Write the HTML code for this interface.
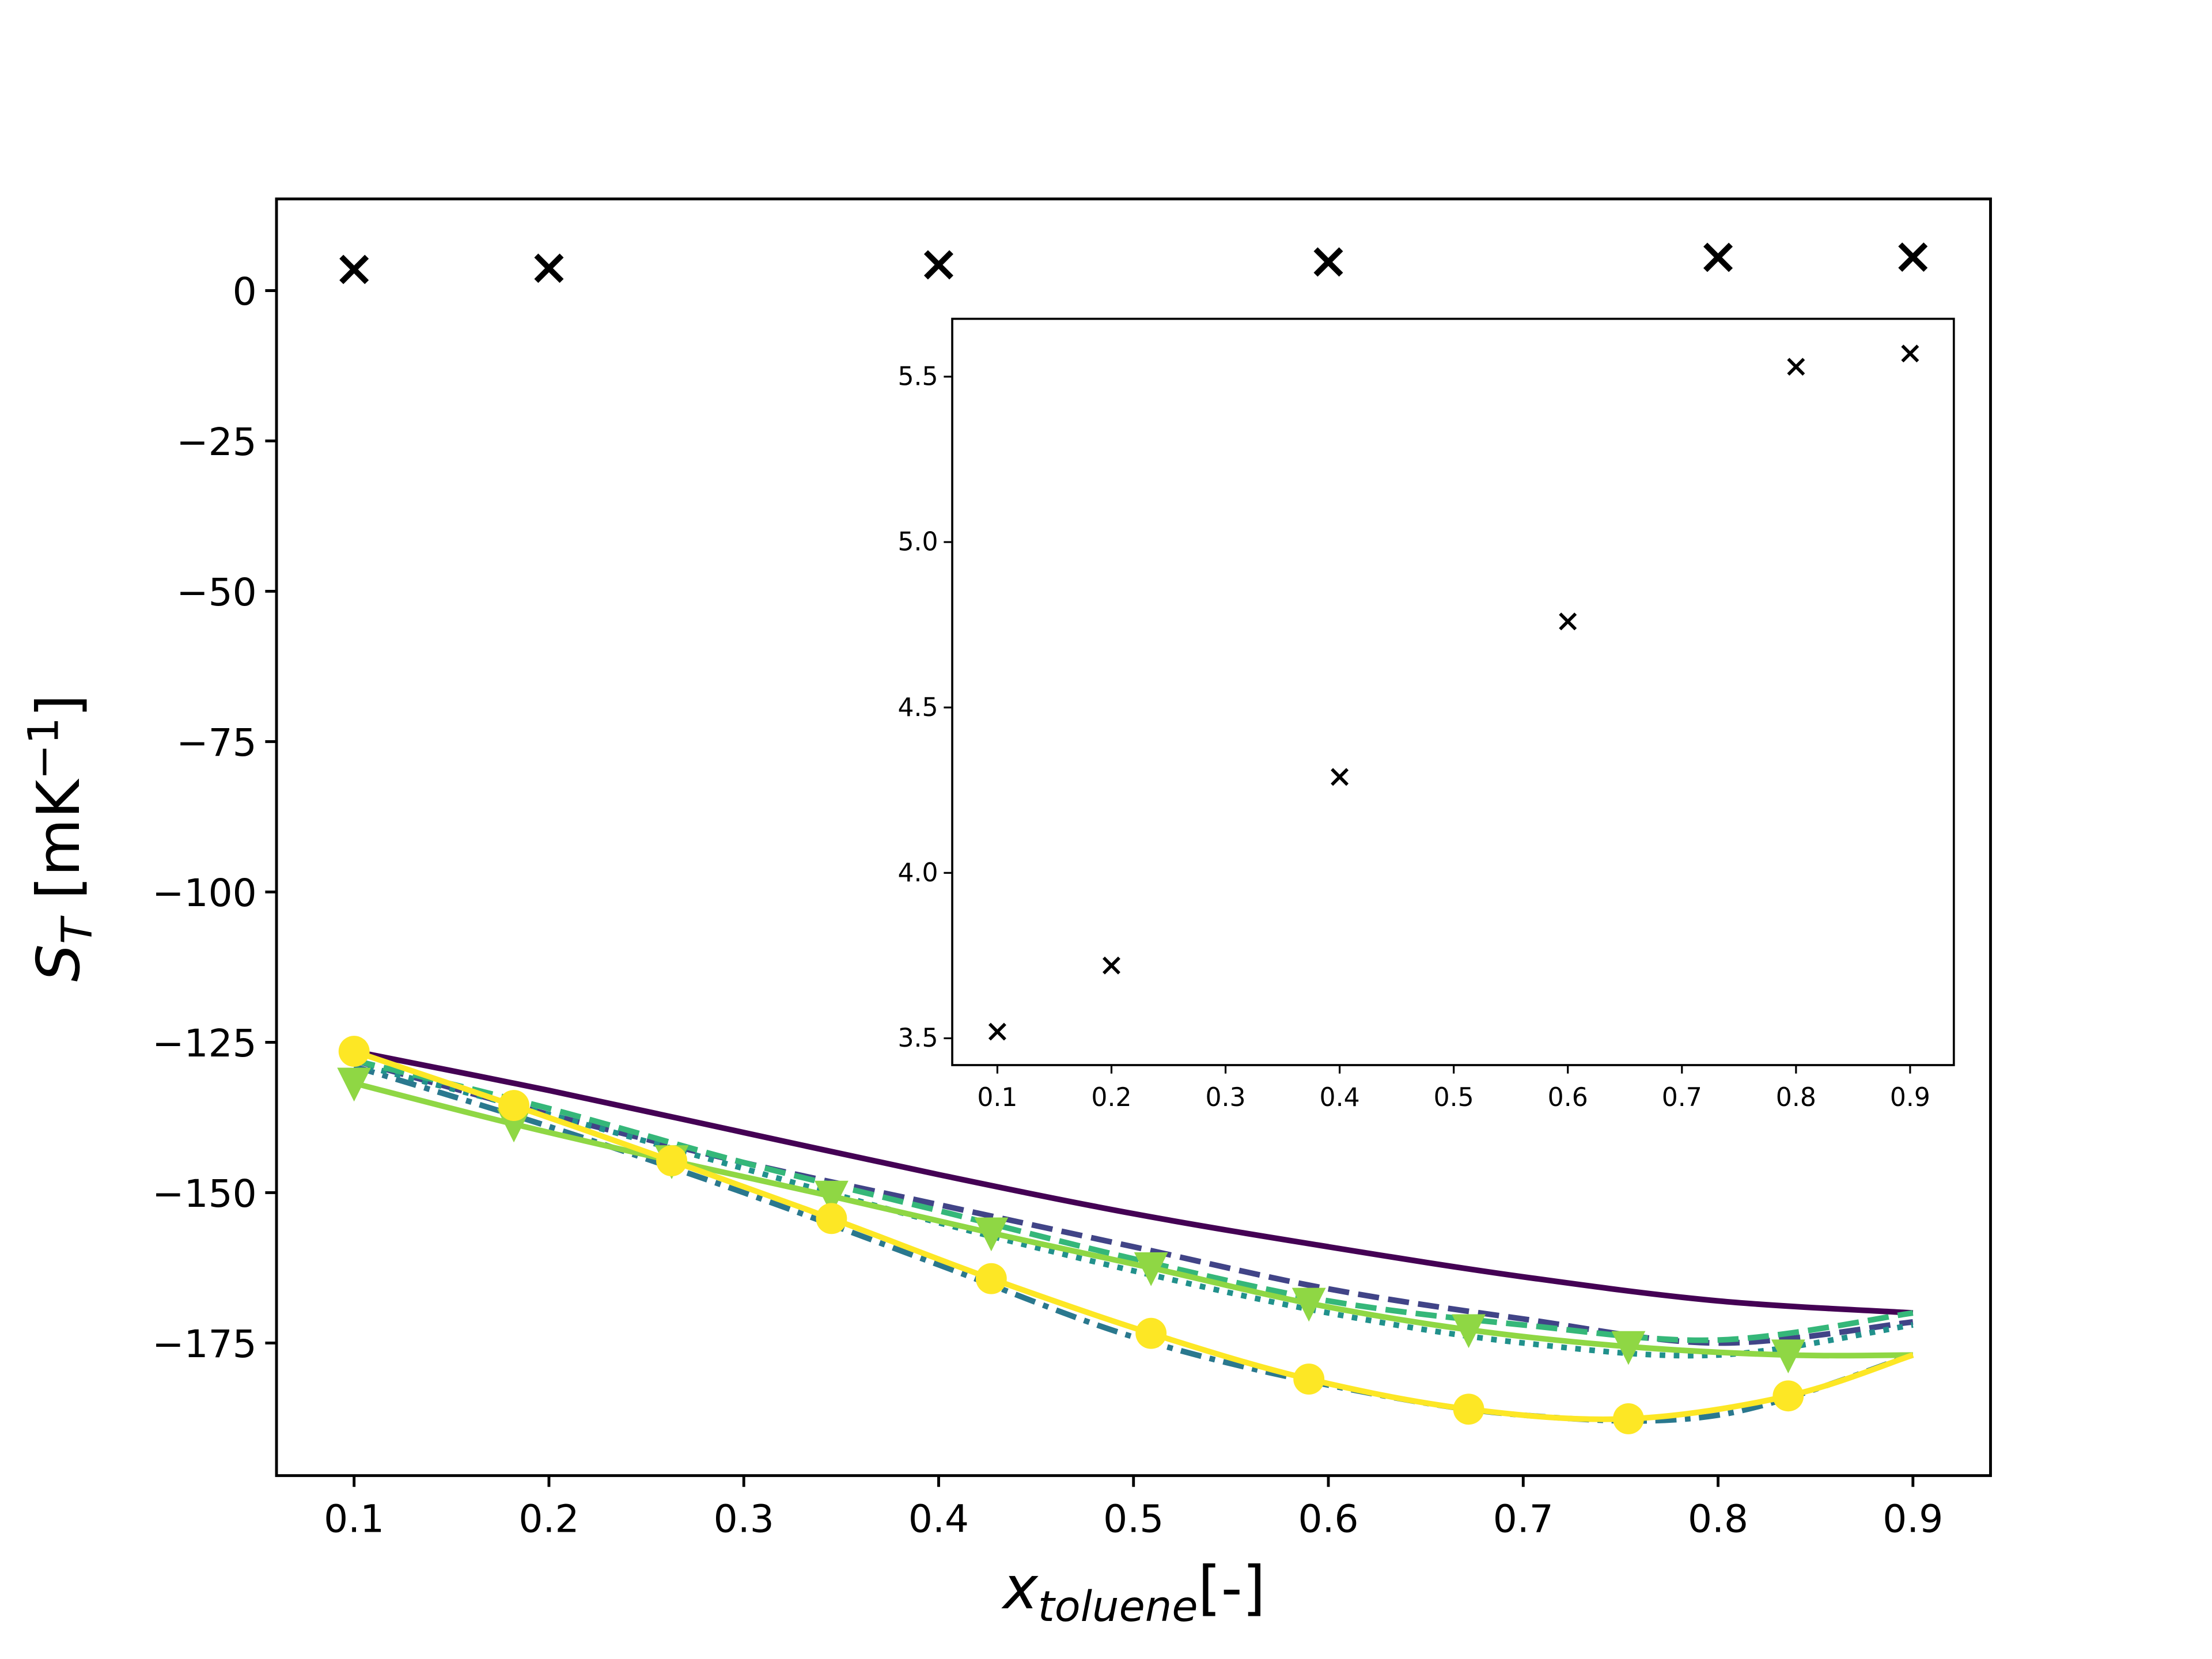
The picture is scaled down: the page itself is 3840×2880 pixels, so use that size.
<!DOCTYPE html>
<html><head><meta charset="utf-8"><style>
html,body{margin:0;padding:0;background:#fff;}
svg{display:block;}
text{font-family:"DejaVu Sans","Liberation Sans",sans-serif;fill:#000;}
</style></head><body>
<svg id="chart" width="3840" height="2880" viewBox="0 0 1568 1176" preserveAspectRatio="none" xmlns="http://www.w3.org/2000/svg">
<rect x="0" y="0" width="1568" height="1176" fill="#fff"/>
<g id="main"></g>
<g id="inset"></g>
</svg>
<script>
const xGrid = [0.1,0.2,0.3,0.4,0.5,0.6,0.7,0.8,0.9];
const solidPurple = [-126.5,-133,-140,-147,-153.5,-159,-164,-168,-170];
const dashedPurple = [-128,-137,-145,-152,-159,-166,-171,-175,-171.5];
const dashDotBlue = [-129,-139,-150,-162,-174,-182,-187,-187,-177];
const dottedTeal = [-128.5,-137,-146,-155,-163,-170,-175,-177,-172];
const dashedGreen = [-128,-136,-145,-153,-161,-168,-172,-174.5,-170];
const markerX = [0.1,0.182,0.263,0.345,0.427,0.509,0.59,0.672,0.754,0.836,0.9];
const triangleVals = [-131.8,-138.6,-144.7,-150.6,-156.7,-162.5,-168.4,-172.8,-175.6,-177,-177];
const circleVals = [-126.5,-135.5,-144.7,-154.3,-164.3,-173.4,-181,-186,-187.6,-183.8,-177];
const expX = [0.1,0.2,0.4,0.6,0.8,0.9];
const expVals = [3.52,3.72,4.29,4.76,5.53,5.57];
const mainXTicks = [0.1,0.2,0.3,0.4,0.5,0.6,0.7,0.8,0.9];
const mainYTicks = [0,-25,-50,-75,-100,-125,-150,-175];
const insetXTicks = [0.1,0.2,0.3,0.4,0.5,0.6,0.7,0.8,0.9];
const insetYTicks = [3.5,4.0,4.5,5.0,5.5];

const NS="http://www.w3.org/2000/svg";
function mk(parent,tag,attrs){const e=document.createElementNS(NS,tag);for(const k in attrs)e.setAttribute(k,attrs[k]);parent.appendChild(e);return e;}
const fmtMinus=v=>(v<0?"\u2212"+Math.abs(v):String(v));
function smoothPath(pts){
  let d=`M${pts[0][0]},${pts[0][1]}`;
  for(let i=0;i<pts.length-1;i++){
    const p0=pts[Math.max(0,i-1)],p1=pts[i],p2=pts[i+1],p3=pts[Math.min(pts.length-1,i+2)];
    const c1x=p1[0]+(p2[0]-p0[0])/6,c1y=p1[1]+(p2[1]-p0[1])/6;
    const c2x=p2[0]-(p3[0]-p1[0])/6,c2y=p2[1]-(p3[1]-p1[1])/6;
    d+=`C${c1x},${c1y} ${c2x},${c2y} ${p2[0]},${p2[1]}`;
  }
  return d;
}

const M={l:196,r:1411,t:141,b:1046};
const mx=v=>251+(v-0.1)/0.8*(1356-251);
const my=v=>206+(-v)/175*(952-206);
const main=document.getElementById('main');

function series(vals,xs,color,dash,name){
  const pts=xs.map((x,i)=>[mx(x),my(vals[i])]);
  const p=mk(main,'path',{d:smoothPath(pts),fill:"none",stroke:color,"stroke-width":4,"stroke-dasharray":dash||"none","stroke-linejoin":"round"});
  
  
}
series(solidPurple,xGrid,"#440154","",'series-solid-purple');
series(dashedPurple,xGrid,"#414487","15 6.5",'series-dashed-purple');
series(dashDotBlue,xGrid,"#2a788e","15 6 4 6",'series-dashdot-blue');
series(dottedTeal,xGrid,"#21918c","4 6",'series-dotted-teal');
series(dashedGreen,xGrid,"#35b779","15 6.5",'series-dashed-green');
series(triangleVals,markerX,"#8fd744","",'series-triangle-line');
markerX.slice(0,10).forEach((x,i)=>{
  const cx=mx(x),cy=my(triangleVals[i]);
  const t=mk(main,'polygon',{points:`${cx-12},${cy-11} ${cx+12},${cy-11} ${cx},${cy+13}`,fill:"#8fd744"});
  
  
});
series(circleVals,markerX,"#fde725","",'series-circle-line');
markerX.slice(0,10).forEach((x,i)=>{
  const c=mk(main,'circle',{cx:mx(x),cy:my(circleVals[i]),r:11,fill:"#fde725"});
  
  
});
expX.forEach((x,i)=>{
  const cx=mx(x),cy=my(expVals[i]),s=9;
  const g=mk(main,'path',{d:`M${cx-s},${cy-s}L${cx+s},${cy+s}M${cx-s},${cy+s}L${cx+s},${cy-s}`,stroke:"#000","stroke-width":4,fill:"none"});
  
  
});
const frame=mk(main,'rect',{x:M.l,y:M.t,width:M.r-M.l,height:M.b-M.t,fill:"none",stroke:"#000","stroke-width":2});


mainXTicks.forEach(v=>{
  const x=mx(v);
  mk(main,'line',{x1:x,x2:x,y1:M.b,y2:M.b+8,stroke:"#000","stroke-width":2});
  const t=mk(main,'text',{x:x,y:M.b+40,"text-anchor":"middle","font-size":27});
  t.textContent=v.toFixed(1);
  
  
});
mainYTicks.forEach(v=>{
  const y=my(v);
  mk(main,'line',{x1:M.l-8,x2:M.l,y1:y,y2:y,stroke:"#000","stroke-width":2});
  const t=mk(main,'text',{x:M.l-14,y:y+10,"text-anchor":"end","font-size":27});
  t.textContent=fmtMinus(v);
  
  
});
const xl=mk(main,'text',{x:804,y:1140,"text-anchor":"middle","font-size":42});
xl.innerHTML='<tspan font-style="italic">x</tspan><tspan font-style="italic" font-size="30" dy="9">toluene</tspan><tspan dy="-9">[-]</tspan>';


const yl=mk(main,'text',{x:0,y:0,"text-anchor":"middle","font-size":42,transform:"translate(56,594) rotate(-90)"});
yl.innerHTML='<tspan font-style="italic">S</tspan><tspan font-style="italic" font-size="30" dy="9">T</tspan><tspan dy="-9"> [mK</tspan><tspan font-size="30" dy="-15">\u22121</tspan><tspan dy="15">]</tspan>';



const I={l:675,r:1385,t:226,b:755};
const ix=v=>707+(v-0.1)/0.8*(1354-707);
const iy=v=>736-(v-3.5)/2*(736-267);
const inset=document.getElementById('inset');
const ib=mk(inset,'rect',{x:I.l,y:I.t,width:I.r-I.l,height:I.b-I.t,fill:"#fff",stroke:"#000","stroke-width":1.5});


expX.forEach((x,i)=>{
  const cx=ix(x),cy=iy(expVals[i]),s=5.5;
  const g=mk(inset,'path',{d:`M${cx-s},${cy-s}L${cx+s},${cy+s}M${cx-s},${cy+s}L${cx+s},${cy-s}`,stroke:"#000","stroke-width":2.3,fill:"none"});
  
  
});
insetXTicks.forEach(v=>{
  const x=ix(v);
  mk(inset,'line',{x1:x,x2:x,y1:I.b,y2:I.b+6,stroke:"#000","stroke-width":1.3});
  const t=mk(inset,'text',{x:x,y:I.b+29,"text-anchor":"middle","font-size":18});
  t.textContent=v.toFixed(1);
  
  
});
insetYTicks.forEach(v=>{
  const y=iy(v);
  mk(inset,'line',{x1:I.l-6,x2:I.l,y1:y,y2:y,stroke:"#000","stroke-width":1.3});
  const t=mk(inset,'text',{x:I.l-10,y:y+6,"text-anchor":"end","font-size":18});
  t.textContent=v.toFixed(1);
  
  
});
</script>
</body></html>
